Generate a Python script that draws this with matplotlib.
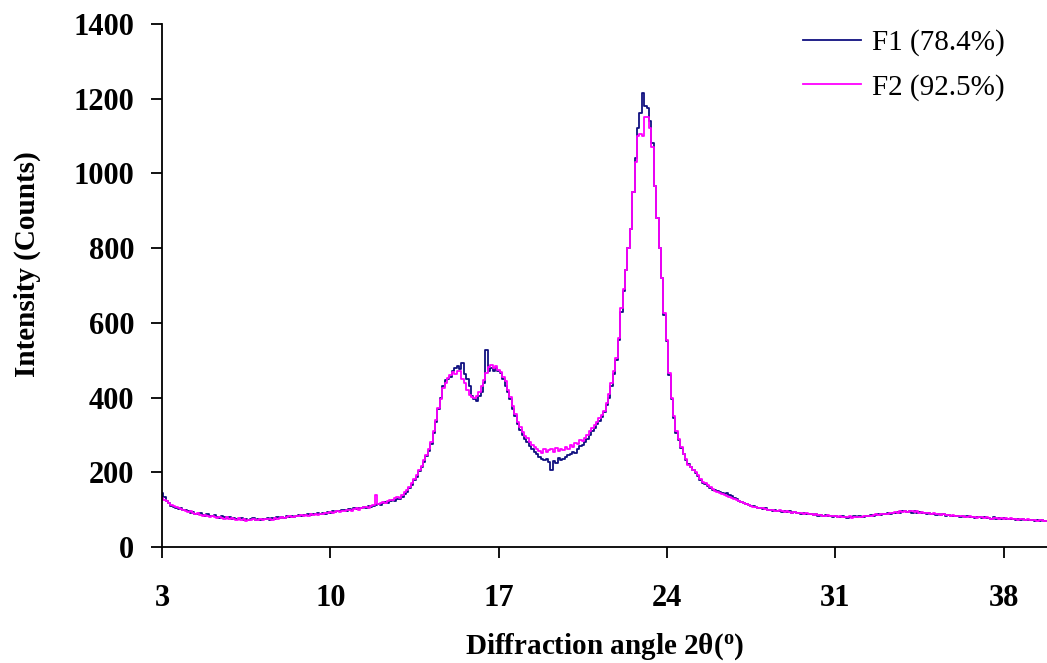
import numpy as np
import matplotlib
matplotlib.use('Agg')
from matplotlib import pyplot as plt

# 2theta grid of the scan (0.1 deg step)
two_theta = np.round(np.arange(3.0, 39.85, 0.1), 1)

# F2 (92.5%) intensities, one row per degree
f2_counts = [
    131, 126, 122, 117, 112, 110, 106, 104, 101, 99,
    96, 94, 97, 90, 88, 91, 85, 83, 86, 82,
    80, 83, 79, 77, 81, 78, 76, 79, 74, 77,
    75, 73, 77, 72, 74, 70, 73, 72, 75, 71,
    73, 74, 71, 76, 74, 75, 73, 77, 76, 78,
    79, 77, 80, 82, 79, 81, 84, 82, 85, 83,
    86, 84, 87, 85, 88, 86, 89, 87, 90, 91,
    93, 91, 94, 96, 93, 97, 95, 98, 100, 97,
    101, 103, 100, 104, 106, 108, 105, 109, 112, 138,
    116, 118, 121, 119, 124, 127, 125, 130, 133, 131,
    138, 146, 152, 160, 170, 181, 192, 205, 218, 232,
    246, 262, 280, 310, 340, 372, 395, 425, 440, 452,
    460, 468, 462, 472, 470, 450, 440, 420, 408, 402,
    398, 404, 415, 432, 447, 465, 482, 488, 478, 484,
    474, 468, 455, 443, 420, 402, 378, 355, 335, 320,
    308, 298, 291, 282, 274, 268, 262, 256, 252, 262,
    255, 259, 262, 254, 266, 258, 263, 260, 268, 262,
    272, 268, 278, 275, 286, 283, 292, 300, 310, 318,
    326, 334, 345, 352, 365, 385, 410, 440, 470, 505,
    560, 640, 690, 740, 800, 850, 950, 1030, 1100, 1105,
    1100, 1150, 1152, 1120, 1070, 965, 880, 800, 720, 625,
    555, 465, 400, 350, 310, 290, 268, 250, 235, 220,
    213, 207, 200, 192, 182, 175, 170, 166, 160, 156,
    150, 148, 145, 142, 140, 137, 135, 132, 128, 126,
    122, 120, 117, 114, 112, 110, 108, 106, 105, 103,
    104, 101, 100, 98, 99, 97, 96, 98, 95, 94,
    95, 93, 92, 94, 91, 92, 90, 89, 91, 88,
    88, 86, 89, 85, 86, 84, 83, 85, 82, 84,
    82, 80, 83, 81, 79, 80, 82, 78, 80, 79,
    81, 80, 83, 82, 84, 83, 85, 87, 86, 88,
    87, 89, 88, 91, 90, 93, 92, 95, 94, 96,
    94, 97, 95, 93, 96, 92, 94, 91, 90, 92,
    89, 90, 87, 88, 86, 87, 85, 86, 84, 85,
    83, 84, 82, 83, 81, 80, 82, 79, 80, 78,
    80, 79, 77, 79, 78, 76, 78, 77, 75, 77,
    76, 78, 75, 77, 74, 76, 73, 75, 74, 72,
    74, 72, 71, 73, 70, 72, 71, 69, 70,
]

# F1 (78.4%) intensities
f1_counts = [
    144, 135, 124, 119, 110, 108, 104, 101, 103, 98,
    99, 95, 92, 94, 89, 87, 92, 86, 84, 88,
    84, 82, 86, 80, 78, 82, 80, 77, 80, 76,
    78, 75, 74, 78, 73, 76, 71, 74, 77, 73,
    75, 72, 76, 74, 77, 73, 78, 76, 79, 77,
    80, 78, 82, 80, 83, 81, 83, 85, 82, 86,
    85, 87, 85, 89, 87, 90, 88, 91, 89, 93,
    92, 95, 93, 97, 95, 98, 100, 97, 102, 99,
    103, 101, 105, 103, 107, 105, 110, 108, 111, 113,
    115, 113, 118, 121, 119, 123, 126, 124, 129, 128,
    134, 142, 148, 158, 166, 178, 188, 202, 214, 228,
    244, 258, 276, 305, 335, 368, 398, 430, 448, 450,
    455, 470, 478, 485, 475, 492, 462, 450, 430, 405,
    395, 392, 405, 415, 440, 527, 470, 480, 470, 478,
    472, 465, 450, 432, 415, 395, 370, 350, 330, 312,
    300, 288, 280, 270, 262, 255, 248, 240, 236, 232,
    235, 228, 206, 230, 226, 238, 232, 236, 240, 245,
    250, 255, 252, 262, 270, 274, 282, 290, 300, 310,
    318, 328, 338, 348, 360, 380, 400, 430, 462, 500,
    555, 630, 685, 740, 800, 850, 950, 1040, 1120, 1161,
    1214, 1179, 1175, 1140, 1080, 965, 880, 800, 720, 620,
    550, 460, 395, 345, 305, 285, 265, 248, 232, 222,
    215, 205, 198, 190, 180, 172, 168, 162, 158, 152,
    152, 150, 148, 145, 142, 144, 140, 136, 130, 128,
    124, 121, 119, 115, 113, 111, 109, 107, 104, 105,
    102, 103, 99, 100, 97, 99, 95, 97, 94, 96,
    93, 95, 91, 93, 90, 92, 88, 90, 87, 89,
    87, 85, 87, 84, 86, 83, 85, 82, 84, 81,
    83, 81, 79, 82, 80, 78, 81, 79, 82, 80,
    82, 79, 81, 84, 82, 85, 84, 86, 88, 85,
    89, 87, 90, 89, 92, 91, 94, 92, 96, 95,
    93, 95, 92, 95, 91, 93, 90, 92, 89, 91,
    88, 89, 86, 88, 85, 87, 84, 86, 83, 84,
    82, 83, 81, 83, 80, 82, 79, 81, 78, 80,
    79, 78, 80, 77, 78, 76, 79, 76, 77, 75,
    77, 75, 76, 74, 76, 73, 75, 72, 74, 73,
    73, 71, 72, 70, 72, 69, 71, 70, 69,
]

series_labels = ["F1 (78.4%)", "F2 (92.5%)"]
x_ticks = [3, 10, 17, 24, 31, 38]
y_ticks = list(range(0, 1401, 200))

plt.rcParams['font.family'] = ['Liberation Serif', 'DejaVu Serif']
plt.rcParams['mathtext.fontset'] = 'custom'
plt.rcParams['mathtext.rm'] = 'Liberation Serif:bold'

fig = plt.figure(figsize=(10.47, 6.63), dpi=100)
ax = fig.add_axes([0.1547, 0.175, 0.8453, 0.789])

ax.plot(two_theta, f1_counts, color='#101080', lw=1.3, drawstyle='steps-mid', label=series_labels[0])
ax.plot(two_theta, f2_counts, color='#ff00ff', lw=1.3, drawstyle='steps-mid', label=series_labels[1])

ax.set_xlim(3, 39.8)
ax.set_ylim(0, 1400)
ax.set_xticks(x_ticks)
ax.set_yticks(y_ticks)
for s in ['top', 'right']:
    ax.spines[s].set_visible(False)
for s in ['left', 'bottom']:
    ax.spines[s].set_linewidth(1.3)
ax.tick_params(axis='x', direction='out', length=8, width=1.3, pad=19, labelsize=22)
ax.tick_params(axis='y', direction='out', length=8, width=1.3, pad=12, labelsize=22)
for lab in ax.get_xticklabels() + ax.get_yticklabels():
    lab.set_fontweight('bold')

ax.set_xlabel(r"Diffraction angle 2θ($\mathregular{^o}$)", fontsize=21, fontweight='bold', labelpad=13)
ax.set_ylabel("Intensity (Counts)", fontsize=21, fontweight='bold')
ax.yaxis.set_label_coords(-0.137, 0.54)

leg = ax.legend(loc='upper right', frameon=False, fontsize=21, handlelength=2.0,
                handletextpad=0.35, labelspacing=0.6, borderaxespad=0.0,
                bbox_to_anchor=(0.965, 1.012))

plt.savefig('out.png', dpi=100)
